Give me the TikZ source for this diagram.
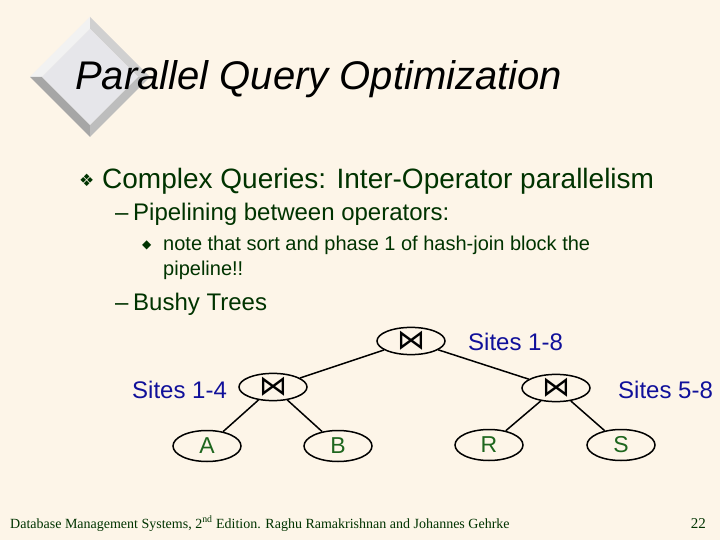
\documentclass[tikz,border=0pt]{standalone}
\usepackage{fontspec}
\setmainfont{Liberation Sans}
\newfontfamily\seriffont{Liberation Serif}
\newfontfamily\dejavu{DejaVu Sans}
\usetikzlibrary{shapes.geometric}
\definecolor{bg}{HTML}{FDF5E8}
\definecolor{txtgreen}{HTML}{003300}
\definecolor{leafgreen}{HTML}{1E661E}
\definecolor{siteblue}{HTML}{10109A}
\definecolor{dface}{HTML}{E6E6EA}
\definecolor{dlight}{HTML}{F2F2F2}
\definecolor{ddark}{HTML}{A6A6A6}
\definecolor{dmid}{HTML}{BDBDBD}
\definecolor{dtr}{HTML}{D0D0D0}
\tikzset{
  fs/.style={font=\fontsize{#1bp}{#1bp}\selectfont},
  txt/.style={anchor=base west, inner sep=0pt, text=txtgreen},
  opnode/.style={ellipse, draw=black, line width=1.5bp, minimum width=68bp, minimum height=26bp, inner sep=0pt, font=\dejavu\fontsize{28bp}{28bp}\selectfont},
  leaf/.style={ellipse, draw=black, line width=1.5bp, minimum width=68bp, minimum height=31bp, inner sep=0pt, text=leafgreen, fs=23},
  sites/.style={anchor=base west, inner sep=0pt, text=siteblue, fs=24},
  edge/.style={line width=1.5bp, draw=black}
}
\begin{document}
\begin{tikzpicture}[x=1bp,y=-1bp]
\path[fill=bg] (0,0) rectangle (720,540);
% bevelled diamond
\coordinate (dT) at (90,17);
\coordinate (dL) at (30,77);
\coordinate (dB) at (90,137);
\coordinate (dR) at (150,77);
\coordinate (iT) at (90,29);
\coordinate (iL) at (42,77);
\coordinate (iB) at (90,125);
\coordinate (iR) at (138,77);
\fill[dlight] (dT) -- (dL) -- (iL) -- (iT) -- cycle;
\fill[ddark] (dL) -- (dB) -- (iB) -- (iL) -- cycle;
\fill[dmid] (dB) -- (dR) -- (iR) -- (iB) -- cycle;
\fill[dtr] (dR) -- (dT) -- (iT) -- (iR) -- cycle;
\fill[dface] (iT) -- (iL) -- (iB) -- (iR) -- cycle;
% title
\node[anchor=base west, inner sep=0pt, fs=40] (title) at (75,90) {\itshape Parallel Query Optimization};
% bullets
\node[anchor=base west, inner sep=0pt, text=txtgreen, fs=17] (b1) at (79,187) {\dejavu ❖};
\node[txt, fs=28] (t1) at (102,189) {Complex Queries: Inter-Operator parallelism};
\node[txt, fs=24] (d1) at (115,221) {–};
\node[txt, fs=24] (t2) at (133,221) {Pipelining between operators:};
\node[anchor=base west, inner sep=0pt, text=txtgreen, fs=12] (b3) at (142,249) {\dejavu ◆};
\node[txt, fs=20] (t3) at (163,251) {note that sort and phase 1 of hash-join block the};
\node[txt, fs=20] (t3b) at (163,276) {pipeline!!};
\node[txt, fs=24] (d2) at (115,310) {–};
\node[txt, fs=24] (t4) at (133,310) {Bushy Trees};
% tree
\node[opnode] (root) at (411,341) {⋈};
\node[opnode] (lj) at (273,387) {⋈};
\node[opnode] (rj) at (556,388) {⋈};
\node[leaf] (A) at (207,446) {A};
\node[leaf] (B) at (338,446) {B};
\node[leaf] (R) at (489,445) {R};
\node[leaf] (S) at (621,445) {S};
\draw[edge] (root) -- (lj);
\draw[edge] (root) -- (rj);
\draw[edge] (lj) -- (A);
\draw[edge] (lj) -- (B);
\draw[edge] (rj) -- (R);
\draw[edge] (rj) -- (S);
\node[sites] (s18) at (468,350) {Sites 1-8};
\node[sites] (s14) at (132,398) {Sites 1-4};
\node[sites] (s58) at (618,398) {Sites 5-8};
% footer
\node[anchor=base west, inner sep=0pt, text=txtgreen, fs=14] (foot) at (10,528) {\seriffont Database Management Systems, 2\textsuperscript{nd} Edition. Raghu Ramakrishnan and Johannes Gehrke};
\node[anchor=base east, inner sep=0pt, text=txtgreen, fs=15] (pg) at (706,528) {\seriffont 22};
\end{tikzpicture}
\end{document}
